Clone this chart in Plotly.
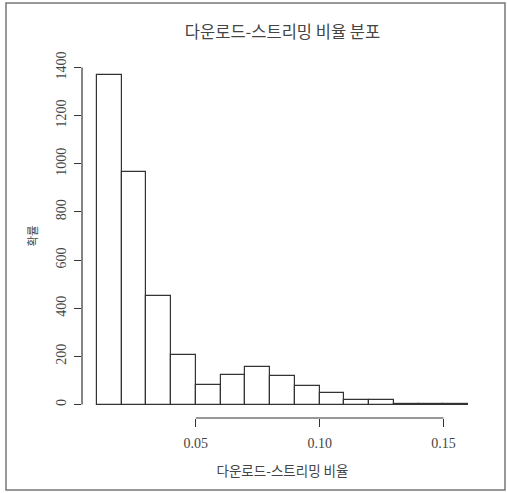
import plotly.graph_objects as go

# Histogram data
bin_starts = [0.01, 0.02, 0.03, 0.04, 0.05, 0.06, 0.07, 0.08, 0.09, 0.10, 0.11, 0.12, 0.13, 0.14, 0.15]
bin_width = 0.01
counts = [1370, 967, 449, 205, 83, 122, 157, 119, 75, 47, 19, 17, 3, 1, 3]
x_ticks = [0.05, 0.10, 0.15]
x_tick_labels = ["0.05", "0.10", "0.15"]
y_ticks = [0, 200, 400, 600, 800, 1000, 1200, 1400]
y_tick_labels = [str(v) for v in y_ticks]

title_text = "다운로드-스트리밍 비율 분포"
x_title = "다운로드-스트리밍 비율"
y_title = "확률"

W, H = 507, 493
ML, MR, MT, MB = 82, 24, 54, 75

centers = [s + bin_width / 2 for s in bin_starts]

fig = go.Figure()
fig.add_trace(go.Bar(
    x=centers, y=counts, width=[bin_width] * len(counts),
    marker=dict(color="white", line=dict(color="#333333", width=1.2)),
    hoverinfo="x+y", showlegend=False,
))

# R-style extended ranges (4%)
xmin, xmax = bin_starts[0], bin_starts[-1] + bin_width
xpad = (xmax - xmin) * 0.04
ymin, ymax = 0, max(y_ticks)
ypad = (ymax - ymin) * 0.04

num_font = dict(family="Liberation Serif, serif", size=14, color="#444444")
kr_font = "Noto Sans CJK KR, sans-serif"

fig.update_layout(
    width=W, height=H,
    margin=dict(l=ML, r=MR, t=MT, b=MB),
    paper_bgcolor="white", plot_bgcolor="white",
    bargap=0,
    title=dict(text=title_text, x=(ML + (W - ML - MR) / 2) / W, xanchor="center",
               y=1 - 32 / H, yanchor="middle",
               font=dict(family=kr_font, size=16.5, color="#444444")),
    xaxis=dict(range=[xmin - xpad, xmax + xpad], tickvals=x_ticks, ticktext=x_tick_labels,
               ticks="outside", ticklen=8, tickwidth=1.2, tickcolor="#333333",
               showgrid=False, zeroline=False, showline=False,
               tickfont=num_font, ticklabelstandoff=4,
               title=dict(text=x_title, font=dict(family=kr_font, size=13.5, color="#444444"), standoff=16)),
    yaxis=dict(range=[ymin - ypad, ymax + ypad], tickvals=y_ticks, ticktext=y_tick_labels,
               ticks="outside", ticklen=7, tickwidth=1.2, tickcolor="#333333",
               showgrid=False, zeroline=False, showline=False,
               tickangle=-90, tickfont=num_font, ticklabelstandoff=2,
               title=dict(text=y_title, font=dict(family=kr_font, size=11.5, color="#444444"), standoff=14)),
)

# R-style axis lines spanning only the tick range
fig.add_shape(type="line", xref="x", yref="paper", x0=x_ticks[0], x1=x_ticks[-1], y0=0, y1=0,
              line=dict(color="#333333", width=1.2))
fig.add_shape(type="line", xref="paper", yref="y", x0=0, x1=0, y0=y_ticks[0], y1=y_ticks[-1],
              line=dict(color="#333333", width=1.2))

# Outer frame of the image
pw, ph = W - ML - MR, H - MT - MB
fig.add_shape(type="rect", xref="paper", yref="paper",
              x0=(6 - ML) / pw, x1=(505 - ML) / pw,
              y0=(H - 490 - MB) / ph, y1=(H - 3 - MB) / ph,
              line=dict(color="#777777", width=1.5), fillcolor="rgba(0,0,0,0)", layer="below")

fig.write_html("out.html", config={"displayModeBar": False},
               post_script="document.body.style.margin='0';document.body.style.overflow='hidden';")
